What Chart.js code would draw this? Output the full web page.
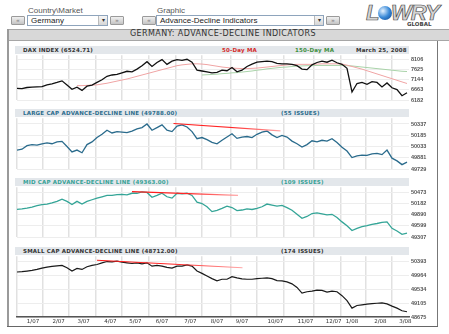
<!DOCTYPE html>
<html>
<head>
<meta charset="utf-8">
<script src="https://cdn.jsdelivr.net/npm/chart.js@4"></script>
<style>
body { margin: 0; background: #fff; font-family: "Liberation Sans", Arial, sans-serif; }
#page { position: relative; width: 449px; height: 334px; overflow: hidden; }
.lbl { position: absolute; top: 6px; font-size: 8px; color: #555; line-height: 9px; }
.btn { position: absolute; top: 16px; width: 14px; height: 9px; box-sizing: border-box; border: 1px solid #9a9a9a; border-radius: 1px;
	background: linear-gradient(#f0f0f0, #c4c4c4); font-size: 6px; line-height: 7px; color: #777; text-align: center; }
.sel { position: absolute; top: 15px; height: 11px; box-sizing: border-box; border: 1px solid #8ea4bc; background: #fff;
	font-size: 8px; line-height: 9px; color: #222; padding-left: 3px; }
.sel .arr { position: absolute; right: 0; top: 0; width: 8px; height: 9px; background: linear-gradient(#f6f6f6, #d6d6d6);
	border-left: 1px solid #bbb; font-size: 6px; line-height: 9px; text-align: center; color: #333; }
.strip { position: absolute; left: 15px; width: 394px; height: 8px; background: #e3e7eb; }
.strip span { position: absolute; top: 0; line-height: 8px; font-family: "DejaVu Sans", sans-serif; font-weight: bold;
	font-size: 5.5px; white-space: nowrap; letter-spacing: 0.2px; }
canvas { position: absolute; z-index: 2; }
</style>
</head>
<body>
<div id="page">
	<div class="lbl" style="left:28px">Country\Market</div>
	<div class="btn" style="left:11px">&laquo;</div>
	<div class="sel" style="left:27px;width:81px">Germany<div class="arr">&#9662;</div></div>
	<div class="btn" style="left:110px">&raquo;</div>

	<div class="lbl" style="left:157px">Graphic</div>
	<div class="btn" style="left:142px">&laquo;</div>
	<div class="sel" style="left:156px;width:168px">Advance-Decline Indicators<div class="arr">&#9662;</div></div>
	<div class="btn" style="left:326px">&raquo;</div>

	<!-- logo -->
	<div style="position:absolute;left:366px;top:0px;font:italic bold 22px 'Liberation Sans';color:#d4d4d4;-webkit-text-stroke:0.7px #4a4a4a">L</div>
	<div style="position:absolute;left:378px;top:6px;width:14px;height:14px;border-radius:50%;background:radial-gradient(circle at 35% 35%, #e6f3ff, #3a8ad8 50%, #0d3f86)"></div>
	<div style="position:absolute;left:391px;top:0px;font:italic bold 22px 'Liberation Sans';color:#d4d4d4;-webkit-text-stroke:0.7px #4a4a4a;letter-spacing:-1px">WRY</div>
	<div style="position:absolute;left:407px;top:21px;font:bold 5.5px 'DejaVu Sans';color:#444">GLOBAL</div>

	<!-- frame -->
	<div style="position:absolute;left:8px;top:29px;width:441px;height:12px;box-sizing:border-box;background:#d8d8d8;border-top:1px solid #a6a6a6;border-bottom:1px solid #a6a6a6"></div>
	<div style="position:absolute;left:8px;top:29px;width:430px;height:12px;line-height:12px;text-align:center;font:8px 'DejaVu Sans';letter-spacing:0.4px;color:#333">GERMANY: ADVANCE-DECLINE INDICATORS</div>
	<div style="position:absolute;left:7px;top:29px;width:2px;height:298px;background:#9a9a9a"></div>
	<div style="position:absolute;left:437px;top:41px;width:1px;height:286px;background:#777"></div>
	<div style="position:absolute;left:7px;top:326px;width:431px;height:1px;background:#666"></div>

	<div class="strip" style="top:46px">
		<span style="left:8px;color:#333">DAX INDEX (6524.71)</span>
		<span style="left:207px;color:#d42a2a">50-Day MA</span>
		<span style="left:280px;color:#3f8f3f">150-Day MA</span>
		<span style="left:341px;color:#333">March 25, 2008</span>
	</div>
	<div class="strip" style="top:109px">
		<span style="left:8px;color:#2c6d8d">LARGE CAP ADVANCE-DECLINE LINE (49788.00)</span>
		<span style="left:266px;color:#2c6d8d">(55 ISSUES)</span>
	</div>
	<div class="strip" style="top:178px">
		<span style="left:8px;color:#36a196">MID CAP ADVANCE-DECLINE LINE (49363.00)</span>
		<span style="left:266px;color:#36a196">(109 ISSUES)</span>
	</div>
	<div class="strip" style="top:247px">
		<span style="left:8px;color:#333">SMALL CAP ADVANCE-DECLINE LINE (48712.00)</span>
		<span style="left:266px;color:#333">(174 ISSUES)</span>
	</div>

	<canvas id="cDax" width="417" height="65" style="left:16px;top:50px"></canvas>
	<canvas id="cLarge" width="417" height="71" style="left:16px;top:113px"></canvas>
	<canvas id="cMid" width="417" height="70" style="left:16px;top:182px"></canvas>
	<canvas id="cSmall" width="417" height="76" style="left:16px;top:251px"></canvas>
</div>

<script>
"use strict";

// one sample every ~4 trading days, 1/2007 .. 3/25/2008
const xMax = 78.4;
const monthGrid = [0, 5.13, 10.33, 15.67, 21, 26.33, 31.67, 37, 42.67, 48, 53.33, 59.33, 64.67, 69.67, 75];
const monthLabels = ['1/07', '2/07', '3/07', '4/07', '5/07', '6/07', '7/07', '8/07', '9/07', '10/07', '11/07', '12/07', '1/08', '2/08', '3/08'];
const monthLabelAt = [3.2, 8.33, 13.33, 18.67, 23.67, 29, 34.67, 40, 45, 51.67, 57.67, 63.33, 67, 72.67, 77.67];

const daxClose = [
	6735, 6723, 6773, 6786, 6798, 6811, 6899, 6949, 7012, 7087,
	6886, 6685, 6786, 6635, 6836, 6886, 7012, 7138, 7301, 7364,
	7389, 7465, 7540, 7515, 7641, 7804, 7993, 7767, 7955, 8093,
	7867, 8018, 8093, 8056, 8106, 7968, 7590, 7553, 7515, 7465,
	7490, 7590, 7565, 7716, 7515, 7590, 7767, 7880, 7968, 7993,
	8018, 7993, 7917, 7892, 7892, 7867, 7804, 7641, 7616, 7842,
	7955, 8018, 7968, 8068, 7943, 7867, 7678, 6560, 6962, 7012,
	6924, 7050, 7012, 6798, 6987, 6760, 6672, 6383, 6522
];
const daxMa50 = [
	null, null, null, null, null, null, null, null, null, null, null, null,
	6861, 6861, 6874, 6886, 6899, 6937, 6974, 7025, 7075, 7125,
	7175, 7238, 7301, 7364, 7427, 7490, 7553, 7616, 7678, 7741,
	7804, 7842, 7867, 7892, 7892, 7880, 7855, 7817, 7779, 7740,
	7716, 7691, 7678, 7666, 7666, 7678, 7691, 7716, 7741, 7767,
	7792, 7817, 7842, 7855, 7867, 7867, 7867, 7867, 7880, 7892,
	7892, 7892, 7892, 7880, 7829, 7767, 7704, 7641, 7565, 7490,
	7414, 7339, 7263, 7188, 7113, 7037, 6962
];
const daxMa150 = [
	null, null, null, null, null, null, null, null, null, null,
	null, null, null, null, null, null, null, null, null, null,
	null, null, null, null, null, null, null, null, null, null,
	null, null, null, null, null, null, null,
	7364, 7377, 7389, 7402, 7427, 7440, 7465, 7477, 7502, 7528,
	7553, 7590, 7616, 7653, 7678, 7704, 7729, 7741, 7767, 7779,
	7792, 7804, 7804, 7817, 7817, 7817, 7817, 7817, 7817, 7804,
	7792, 7767, 7741, 7716, 7691, 7666, 7641, 7616, 7590, 7565,
	7540, 7528
];
const daxTicks = [8106, 7625, 7144, 6663, 6182];

const largeCap = [
	49985, 49996, 50044, 50059, 50051, 50070, 50081, 50070, 50095, 50103,
	50033, 49960, 49985, 49949, 50059, 50095, 50154, 50198, 50253, 50216,
	50234, 50227, 50220, 50242, 50271, 50289, 50337, 50253, 50289, 50326,
	50253, 50234, 50308, 50326, 50297, 50234, 50139, 50154, 50125, 50088,
	50070, 50117, 50161, 50205, 50143, 50161, 50168, 50154, 50198, 50227,
	50242, 50190, 50154, 50183, 50161, 50106, 50070, 50026, 50059, 50110,
	50095, 50117, 50106, 50139, 50088, 50022, 49971, 49883, 49905, 49916,
	49912, 49934, 49941, 49923, 49985, 49875, 49839, 49788, 49821
];
const largeTrendX = [31.3, 52.7];
const largeTrendY = [50344, 50245];
const largeTicks = [50337, 50185, 50033, 49881, 49729];

const midCap = [
	50023, 50038, 50059, 50087, 50122, 50150, 50164, 50192, 50234, 50290,
	50234, 50150, 50234, 50164, 50234, 50276, 50318, 50354, 50389, 50389,
	50410, 50417, 50403, 50445, 50445, 50480, 50466, 50340, 50389, 50445,
	50354, 50318, 50445, 50431, 50445, 50389, 50213, 50178, 50094, 49967,
	50002, 50052, 50108, 50073, 49995, 50009, 50038, 50023, 50052, 50094,
	50164, 50136, 50108, 50129, 50073, 50002, 49897, 49792, 49841, 49918,
	49932, 49911, 49883, 49897, 49813, 49700, 49602, 49476, 49532, 49574,
	49602, 49637, 49658, 49686, 49700, 49532, 49462, 49377, 49405
];
const midTrendX = [23, 44.2];
const midTrendY = [50487, 50389];
const midTicks = [50473, 50182, 49890, 49599, 49307];

const smallCap = [
	50060, 50070, 50090, 50110, 50140, 50181, 50211, 50231, 50252, 50262,
	50191, 50090, 50171, 50140, 50221, 50262, 50292, 50342, 50383, 50373,
	50393, 50363, 50342, 50322, 50342, 50312, 50342, 50241, 50262, 50241,
	50201, 50181, 50241, 50241, 50282, 50241, 50090, 50019, 49938, 49857,
	49787, 49837, 49837, 49918, 49878, 49847, 49837, 49837, 49857, 49868,
	49878, 49857, 49797, 49787, 49756, 49696, 49585, 49413, 49453, 49473,
	49504, 49494, 49443, 49473, 49453, 49332, 49180, 48948, 49029, 49049,
	49069, 49089, 49099, 49110, 49079, 49009, 48948, 48867, 48837
];
const smallTrendX = [16, 45.1];
const smallTrendY = [50423, 50191];
const smallTicks = [50393, 49964, 49534, 49105, 48675];

Chart.defaults.font.family = '"Liberation Sans", Arial, sans-serif';

function series(values) {
	const out = [];
	for (let i = 0; i < values.length; i++) {
		if (values[i] !== null) {
			out.push({x: i, y: values[i]});
		}
	}
	return out;
}

function trend(xs, ys) {
	return xs.map(function(x, i) { return {x: x, y: ys[i]}; });
}

// the trend lines fade from red to pink
function trendColor(context) {
	const chart = context.chart;
	if (!chart.chartArea || !chart.scales.x) {
		return '#ff2020';
	}
	const data = context.dataset.data;
	const x0 = chart.scales.x.getPixelForValue(data[0].x);
	const x1 = chart.scales.x.getPixelForValue(data[data.length - 1].x);
	const g = chart.ctx.createLinearGradient(x0, 0, x1, 0);
	g.addColorStop(0, '#ff1818');
	g.addColorStop(0.55, '#ff2828');
	g.addColorStop(1, '#ffa8a8');
	return g;
}

function lineSet(data, color, width) {
	return {
		data: data,
		borderColor: color,
		borderWidth: width,
		pointRadius: 0,
		fill: false,
		tension: 0,
	};
}

function panel(id, datasets, yTicks, yMin, yMax, withLabels) {
	return new Chart(document.getElementById(id), {
		type: 'line',
		data: { datasets: datasets },
		options: {
			responsive: false,
			animation: false,
			layout: {
				padding: { top: 4, bottom: withLabels ? 0 : 5, left: 1, right: 0 }
			},
			plugins: {
				legend: { display: false },
				tooltip: { enabled: false }
			},
			scales: {
				x: {
					type: 'linear',
					min: 0,
					max: xMax,
					afterBuildTicks: function(axis) {
						axis.ticks = monthGrid.map(function(v) { return {value: v}; });
					},
					afterFit: function(axis) { axis.height = 0; },
					ticks: { display: false },
					grid: { color: '#e1e1e1', lineWidth: 1.5, drawTicks: false },
					border: { display: false }
				},
				xl: {
					type: 'linear',
					position: 'bottom',
					display: withLabels,
					min: 0,
					max: xMax,
					afterBuildTicks: function(axis) {
						axis.ticks = monthLabelAt.map(function(v) { return {value: v}; });
					},
					afterFit: function(axis) { axis.height = 10; },
					ticks: {
						autoSkip: false,
						maxRotation: 0,
						padding: 1,
						color: '#333',
						font: { family: '"DejaVu Sans", sans-serif', size: 5.5 },
						callback: function(val, index) { return monthLabels[index]; }
					},
					grid: { display: false, drawTicks: false },
					border: { display: true, color: '#555', width: 1.5 }
				},
				y: {
					position: 'right',
					min: yMin,
					max: yMax,
					afterBuildTicks: function(axis) {
						axis.ticks = yTicks.map(function(v) { return {value: v}; });
					},
					afterFit: function(axis) { axis.width = 24; },
					ticks: {
						padding: 2,
						color: '#555',
						font: { size: 5.5, weight: 'bold' },
						callback: function(val) { return String(val); }
					},
					grid: { color: '#ededed', drawTicks: false },
					border: { display: false }
				}
			}
		}
	});
}

panel('cDax', [
	lineSet(series(daxClose), '#111', 1.3),
	lineSet(series(daxMa50), '#f0a4a4', 1),
	lineSet(series(daxMa150), '#a9d3a9', 1)
], daxTicks, 6182, 8295, false);

panel('cLarge', [
	lineSet(trend(largeTrendX, largeTrendY), trendColor, 1.2),
	lineSet(series(largeCap), '#2a6b8c', 1.3)
], largeTicks, 49729, 50414, false);

panel('cMid', [
	lineSet(trend(midTrendX, midTrendY), trendColor, 1.2),
	lineSet(series(midCap), '#34a597', 1.3)
], midTicks, 49307, 50600, false);

panel('cSmall', [
	lineSet(trend(smallTrendX, smallTrendY), trendColor, 1.2),
	lineSet(series(smallCap), '#1a1a1a', 1.2)
], smallTicks, 48675, 50544, true);
</script>
</body>
</html>
